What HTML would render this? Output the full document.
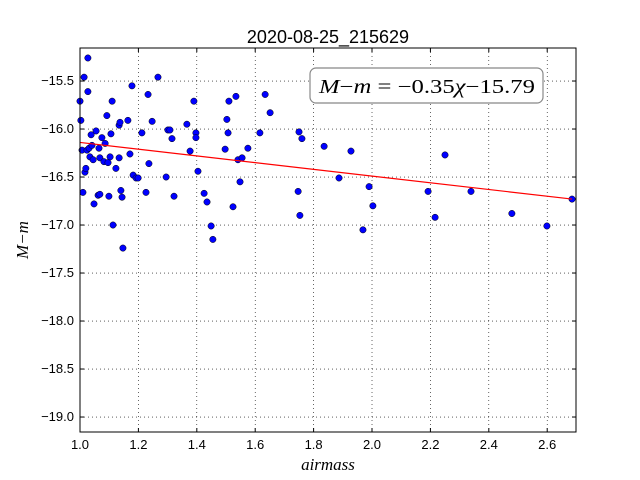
<!DOCTYPE html>
<html><head><meta charset="utf-8"><style>
body{margin:0;background:#fff;}
svg{display:block;font-family:"Liberation Sans",sans-serif;}
</style></head><body>
<svg id="chart" width="640" height="480">
<rect width="640" height="480" fill="#fff"/>
<g id="grid"></g>
<g id="points"></g>
<g id="fit"></g>
<rect x="80" y="48" width="496" height="384" fill="none" stroke="#000" stroke-width="1"/>
<g id="ticks"></g>
<text x="328" y="43" text-anchor="middle" font-size="18">2020-08-25_215629</text>
<text x="328" y="470" text-anchor="middle" font-size="17" font-style="italic" font-family="'Liberation Serif',serif">airmass</text>
<text transform="translate(28,240) rotate(-90)" text-anchor="middle" font-size="17" font-style="italic" font-family="'Liberation Serif',serif">M−m</text>
<g>
<rect x="310" y="68" width="233" height="35" rx="6" fill="#fff" stroke="#888" stroke-width="1.2"/>
<text x="319" y="93" font-size="20" textLength="216" lengthAdjust="spacingAndGlyphs" font-family="'Liberation Serif',serif"><tspan font-style="italic">M</tspan>−<tspan font-style="italic">m</tspan> = −0.35<tspan font-style="italic">χ</tspan>−15.79</text>
</g>
</svg>
<script>
const xs=[1.00,1.003,1.007,1.01,1.014,1.017,1.02,1.024,1.027,1.027,1.031,1.034,1.038,1.041,1.045,1.048,1.055,1.062,1.065,1.068,1.068,1.075,1.082,1.086,1.092,1.096,1.099,1.103,1.106,1.11,1.113,1.123,1.134,1.134,1.137,1.14,1.144,1.147,1.164,1.171,1.178,1.182,1.192,1.199,1.212,1.226,1.233,1.236,1.247,1.267,1.295,1.301,1.308,1.315,1.322,1.366,1.377,1.39,1.397,1.397,1.404,1.425,1.435,1.449,1.455,1.497,1.503,1.507,1.51,1.524,1.534,1.541,1.548,1.555,1.575,1.616,1.634,1.651,1.747,1.75,1.753,1.76,1.836,1.887,1.928,1.969,1.99,2.003,2.192,2.216,2.25,2.339,2.479,2.599,2.685];
const ys=[-15.71,-15.91,-16.22,-16.66,-15.46,-16.45,-16.41,-16.22,-15.26,-15.61,-16.20,-16.29,-16.06,-16.17,-16.32,-16.78,-16.02,-16.69,-16.20,-16.30,-16.68,-16.09,-16.34,-16.15,-15.86,-16.35,-16.70,-16.29,-16.05,-15.71,-17.00,-16.41,-15.96,-16.30,-15.93,-16.64,-16.71,-17.24,-15.91,-16.26,-15.55,-16.48,-16.51,-16.51,-16.04,-16.66,-15.64,-16.36,-15.92,-15.46,-16.50,-16.01,-16.01,-16.10,-16.70,-15.95,-16.23,-15.71,-16.04,-16.09,-16.44,-16.67,-16.76,-17.01,-17.15,-16.21,-15.90,-16.04,-15.71,-16.81,-15.66,-16.32,-16.55,-16.30,-16.20,-16.04,-15.64,-15.83,-16.65,-16.03,-16.90,-16.10,-16.18,-16.51,-16.23,-17.05,-16.60,-16.80,-16.65,-16.92,-16.27,-16.65,-16.88,-17.01,-16.73];
const slope=-0.35, intercept=-15.79;
const xTicks=["1.0","1.2","1.4","1.6","1.8","2.0","2.2","2.4","2.6"];
const yTicks=["−15.5","−16.0","−16.5","−17.0","−17.5","−18.0","−18.5","−19.0"];
const X0=80,X1=576,Y0=48,Y1=432,xmin=1.0,xmax=2.6986,ymax=-15.156,ymin=-19.156;
const sx=v=>X0+(v-xmin)/(xmax-xmin)*(X1-X0);
const sy=v=>Y0+(ymax-v)/(ymax-ymin)*(Y1-Y0);
const NS="http://www.w3.org/2000/svg";
function mk(t,a,p){const e=document.createElementNS(NS,t);for(const k in a)e.setAttribute(k,a[k]);p.appendChild(e);return e;}
const grid=document.getElementById('grid'),ticks=document.getElementById('ticks');
xTicks.forEach(t=>{const v=parseFloat(t),x=sx(v);
 const g=mk('line',{x1:x,x2:x,y1:Y0,y2:Y1,stroke:'#000','stroke-width':0.6,'stroke-dasharray':'1,3'},grid);
 
 
 mk('line',{x1:x,x2:x,y1:Y1,y2:Y1-4,stroke:'#000'},ticks);
 mk('line',{x1:x,x2:x,y1:Y0,y2:Y0+4,stroke:'#000'},ticks);
 const l=mk('text',{x:x,y:Y1+17,'text-anchor':'middle','font-size':13},ticks);l.textContent=t;
 
 });
yTicks.forEach(t=>{const v=parseFloat(t.replace('−','-')),y=sy(v);
 const g=mk('line',{x1:X0,x2:X1,y1:y,y2:y,stroke:'#000','stroke-width':0.6,'stroke-dasharray':'1,3'},grid);
 
 
 mk('line',{x1:X0,x2:X0+4,y1:y,y2:y,stroke:'#000'},ticks);
 mk('line',{x1:X1,x2:X1-4,y1:y,y2:y,stroke:'#000'},ticks);
 const l=mk('text',{x:X0-6,y:y+4,'text-anchor':'end','font-size':13},ticks);l.textContent=t;
 
 });
const pts=document.getElementById('points');
xs.forEach((x,i)=>{const c=mk('circle',{cx:sx(x),cy:sy(ys[i]),r:3.2,fill:'#0000ff',stroke:'#000','stroke-width':0.5},pts);
 
 });
const fl=mk('line',{x1:sx(xmin),y1:sy(slope*xmin+intercept),x2:sx(2.685),y2:sy(slope*2.685+intercept),stroke:'#ff0000','stroke-width':1.2},document.getElementById('fit'));


</script>
</body></html>
